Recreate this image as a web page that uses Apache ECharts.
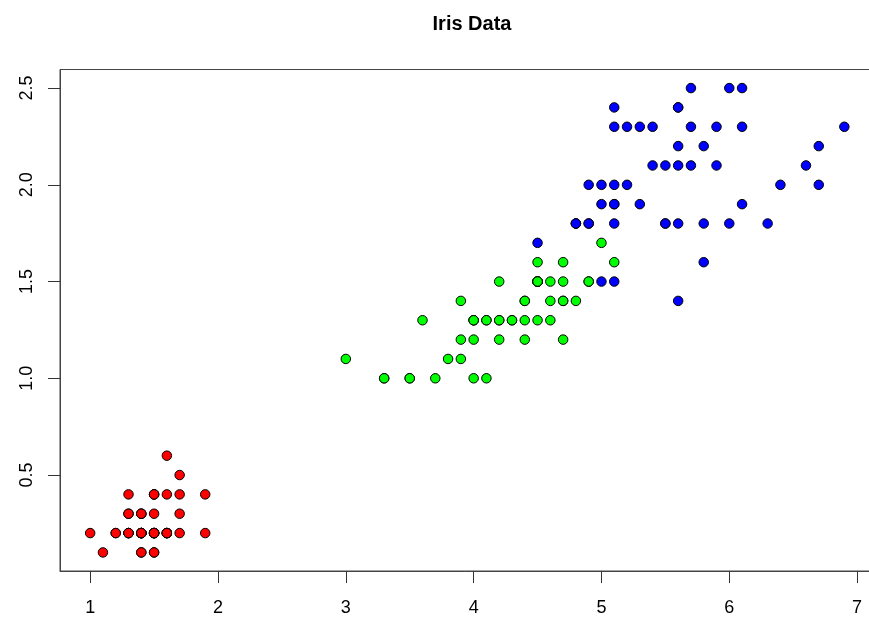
<!DOCTYPE html>
<html><head><meta charset="utf-8">
<script src="https://cdn.jsdelivr.net/npm/echarts@6/dist/echarts.min.js"></script>
<style>html,body{margin:0;padding:0;background:#fff}#c{width:869px;height:622px}</style>
</head><body><div id="c"></div>
<script>
const setosaPL=[1.4,1.4,1.3,1.5,1.4,1.7,1.4,1.5,1.4,1.5,1.5,1.6,1.4,1.1,1.2,1.5,1.3,1.4,1.7,1.5,1.7,1.5,1.0,1.7,1.9,1.6,1.6,1.5,1.4,1.6,1.6,1.5,1.5,1.4,1.5,1.2,1.3,1.4,1.3,1.5,1.3,1.3,1.3,1.6,1.9,1.4,1.6,1.4,1.5,1.4];
const setosaPW=[0.2,0.2,0.2,0.2,0.2,0.4,0.3,0.2,0.2,0.1,0.2,0.2,0.1,0.1,0.2,0.4,0.4,0.3,0.3,0.3,0.2,0.4,0.2,0.5,0.2,0.2,0.4,0.2,0.2,0.2,0.2,0.4,0.1,0.2,0.2,0.2,0.2,0.1,0.2,0.2,0.3,0.3,0.2,0.6,0.4,0.3,0.2,0.2,0.2,0.2];
const versicolorPL=[4.7,4.5,4.9,4.0,4.6,4.5,4.7,3.3,4.6,3.9,3.5,4.2,4.0,4.7,3.6,4.4,4.5,4.1,4.5,3.9,4.8,4.0,4.9,4.7,4.3,4.4,4.8,5.0,4.5,3.5,3.8,3.7,3.9,5.1,4.5,4.5,4.7,4.4,4.1,4.0,4.4,4.6,4.0,3.3,4.2,4.2,4.2,4.3,3.0,4.1];
const versicolorPW=[1.4,1.5,1.5,1.3,1.5,1.3,1.6,1.0,1.3,1.4,1.0,1.5,1.0,1.4,1.3,1.4,1.5,1.0,1.5,1.1,1.8,1.3,1.5,1.2,1.3,1.4,1.4,1.7,1.5,1.0,1.1,1.0,1.2,1.6,1.5,1.6,1.5,1.3,1.3,1.3,1.2,1.4,1.2,1.0,1.3,1.2,1.3,1.3,1.1,1.3];
const virginicaPL=[6.0,5.1,5.9,5.6,5.8,6.6,4.5,6.3,5.8,6.1,5.1,5.3,5.5,5.0,5.1,5.3,5.5,6.7,6.9,5.0,5.7,4.9,6.7,4.9,5.7,6.0,4.8,4.9,5.6,5.8,6.1,6.4,5.6,5.1,5.6,6.1,5.6,5.5,4.8,5.4,5.6,5.1,5.1,5.9,5.7,5.2,5.0,5.2,5.4,5.1];
const virginicaPW=[2.5,1.9,2.1,1.8,2.2,2.1,1.7,1.8,1.8,2.5,2.0,1.9,2.1,2.0,2.4,2.3,1.8,2.2,2.3,1.5,2.3,2.0,2.0,1.8,2.1,1.8,1.8,1.8,2.1,1.6,1.9,2.0,2.2,1.5,1.4,2.3,2.4,1.8,1.8,2.1,2.4,2.3,1.9,2.3,2.5,2.3,1.9,2.0,2.3,1.8];
const xTicks=[1,2,3,4,5,6,7];
const yTicks=[0.5,1.0,1.5,2.0,2.5];
const title='Iris Data';

function pairs(a,b){return a.map((v,i)=>[v,b[i]]);}
const font='"Liberation Sans", Arial, sans-serif';
const mk=(data,color)=>({type:'scatter',data:data,symbol:'circle',symbolSize:9.5,
  itemStyle:{color:color,borderColor:'#000',borderWidth:1,opacity:1},emphasis:{disabled:true},animation:false});
const chart=echarts.init(document.getElementById('c'),null,{renderer:'canvas'});
chart.setOption({
  animation:false,
  title:{text:title,left:467,textAlign:'center',top:9,textStyle:{fontFamily:font,fontWeight:'bold',fontSize:20,color:'#000'}},
  grid:{left:60,top:69.5,width:814.5,height:501.5,outerBoundsMode:'none',containLabel:false,show:true,borderColor:'#444',borderWidth:1,backgroundColor:'transparent'},
  xAxis:{type:'value',min:0.764,max:7.136,
    axisLine:{show:true,onZero:false,lineStyle:{color:'#444',width:1}},
    axisTick:{show:true,length:12,customValues:xTicks,lineStyle:{color:'#333'}},
    axisLabel:{customValues:xTicks,margin:28,fontFamily:font,fontSize:18,color:'#000',formatter:v=>String(v)},
    splitLine:{show:false}},
  yAxis:{type:'value',min:0.004,max:2.596,
    axisLine:{show:true,onZero:false,lineStyle:{color:'#444',width:1}},
    axisTick:{show:true,length:12,customValues:yTicks,lineStyle:{color:'#333'}},
    axisLabel:{customValues:yTicks,rotate:90,margin:24,fontFamily:font,fontSize:18,color:'#000',formatter:v=>v.toFixed(1)},
    splitLine:{show:false}},
  series:[mk(pairs(setosaPL,setosaPW),'#FF0000'),mk(pairs(versicolorPL,versicolorPW),'#00FF00'),mk(pairs(virginicaPL,virginicaPW),'#0000FF')]
});
</script></body></html>
